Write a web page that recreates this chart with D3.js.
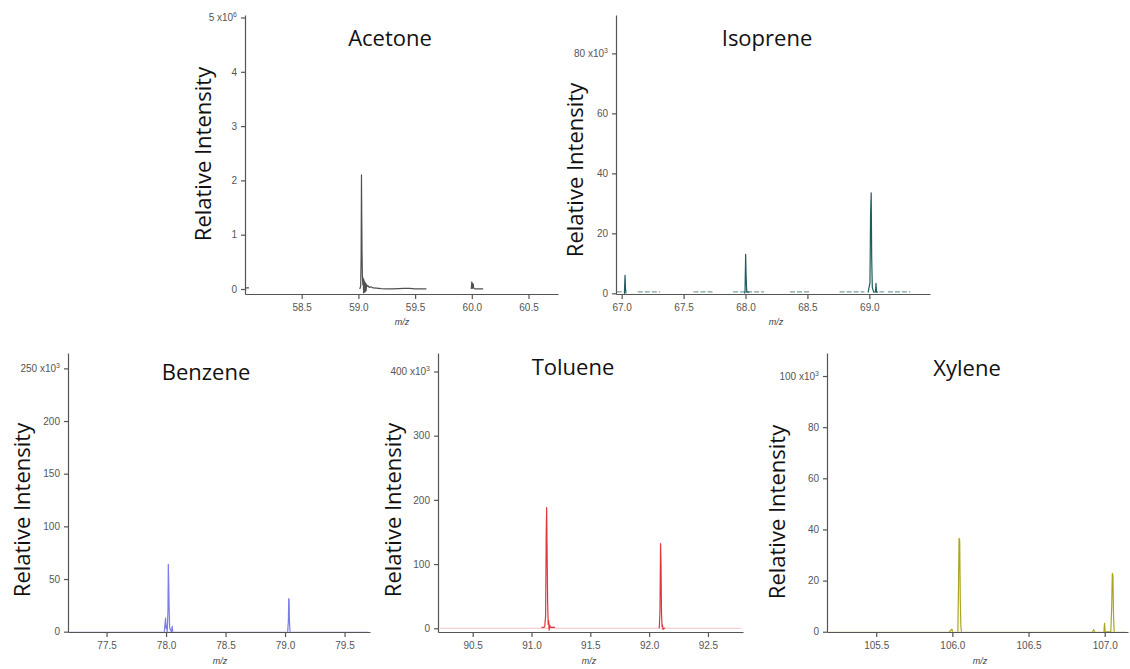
<!DOCTYPE html>
<html>
<head>
<meta charset="utf-8">
<script src="https://cdnjs.cloudflare.com/ajax/libs/d3/7.8.5/d3.min.js"></script>
<style>
body{margin:0;background:#fff;}
svg{display:block;}
.tick text{font-family:"Liberation Sans",Arial,sans-serif;font-size:10px;fill:#555;}
.title{font-family:"Open Sans",sans-serif;font-size:22px;fill:#111;text-anchor:middle;}
.ylab{font-family:"Open Sans",sans-serif;font-size:22px;fill:#111;text-anchor:middle;}
.xlab{font-family:"Liberation Sans",Arial,sans-serif;font-size:9px;font-style:italic;fill:#444;text-anchor:middle;}
</style>
</head>
<body>
<svg id="chart" width="1130" height="669"></svg>
<script>
/**
	spectra; null = gap in the trace
**/
// acetone, x10^6
var acetoneMz  = [58.00, 58.035, 58.04, 59.012, 59.020, 59.024, 59.027, 59.030, 59.032, 59.035, 59.039, 59.042, 59.046, 59.049, 59.053, 59.056, 59.060, 59.064, 59.068, 59.072, 59.078, 59.085, 59.095, 59.11, 59.13, 59.16, 59.20, 59.25, 59.30, 59.35, 59.40, 59.45, 59.50, 59.55, 59.60, 59.62, 59.995, 60.000, 60.003, 60.006, 60.010, 60.013, 60.016, 60.020, 60.024, 60.03, 60.10, 60.12];
var acetoneInt = [0.02, 0.02, null, 0, 0.05, 0.6, 2.10, 1.2, 0.67, 0.25, 0.08, 0.2, -0.07, 0.17, -0.06, 0.13, -0.05, 0.11, -0.03, 0.08, 0.05, 0.06, 0.03, 0.04, 0.02, 0.015, 0.008, 0.004, 0.003, 0.008, 0.013, 0.01, 0.004, 0.002, 0.001, null, 0, 0.13, 0.04, 0.01, 0.10, 0.08, 0.02, 0.01, 0.005, 0.002, 0.001, null];

// isoprene, x10^3
var isopreneMz  = [67.018, 67.022, 67.027, 67.031, 67.035, 67.04, 67.99, 67.996, 68.001, 68.005, 68.010, 68.03, 68.04, 68.99, 69.005, 69.010, 69.015, 69.019, 69.024, 69.035, 69.050, 69.054, 69.058, 69.07];
var isopreneInt = [0, 0, 6.0, 1.5, 0, null, 0, 0.3, 13.0, 5.5, 0.4, 0.4, null, 0.2, 3.5, 26, 33.5, 12, 2, 0.4, 0.5, 3.3, 0.4, 0.4];
// isoprene baseline noise stretches
var isopreneNoiseFrom = [66.96, 67.13, 67.58, 67.90, 68.36, 68.76, 69.08, 69.15];
var isopreneNoiseTo   = [67.01, 67.31, 67.74, 68.15, 68.53, 68.96, 69.12, 69.33];

// benzene, x10^3
var benzeneMz  = [77.985, 77.996, 78.000, 78.004, 78.010, 78.016, 78.019, 78.022, 78.026, 78.030, 78.036, 78.045, 78.052, 78.056, 78.06, 79.022, 79.028, 79.031, 79.034, 79.037, 79.042];
var benzeneInt = [0, 13, 3, 6, 0, 20, 64, 50, 22, 4, 2, 0, 5, 0, null, 0, 10, 31.5, 30, 10, 0];

// toluene, x10^3
var tolueneMz  = [91.085, 91.105, 91.112, 91.120, 91.125, 91.129, 91.133, 91.137, 91.142, 91.146, 91.150, 91.155, 91.160, 91.20, 91.22, 92.086, 92.092, 92.097, 92.101, 92.105, 92.110, 92.114, 92.118, 92.124, 92.136];
var tolueneInt = [1.5, 1.5, 2, 20, 150, 188, 110, 40, 6, 12, -3, 5, 1.5, 1.5, null, 0, 25, 132, 100, 25, 3, 5, -2, 0, 0];

// xylene, x10^3
var xyleneMz  = [105.98, 105.997, 106.002, 106.01, 106.036, 106.040, 106.044, 106.048, 106.052, 106.056, 106.060, 106.07, 106.92, 106.928, 106.935, 106.94, 106.995, 106.999, 107.003, 107.040, 107.046, 107.050, 107.054, 107.058, 107.062];
var xyleneInt = [0, 1.0, 0, null, 0, 16, 36.5, 36, 12, 2, 0, null, 0, 0.8, 0, null, 0, 3.3, 0, 0, 10, 22.8, 22, 6, 0];

// axis ticks
var acetoneXTicks = [58.5, 59.0, 59.5, 60.0, 60.5];
var acetoneYTicks = [0, 1, 2, 3, 4, 5];
var isopreneXTicks = [67.0, 67.5, 68.0, 68.5, 69.0];
var isopreneYTicks = [0, 20, 40, 60, 80];
var benzeneXTicks = [77.5, 78.0, 78.5, 79.0, 79.5];
var benzeneYTicks = [0, 50, 100, 150, 200, 250];
var tolueneXTicks = [90.5, 91.0, 91.5, 92.0, 92.5];
var tolueneYTicks = [0, 100, 200, 300, 400];
var xyleneXTicks = [105.5, 106.0, 106.5, 107.0];
var xyleneYTicks = [0, 20, 40, 60, 80, 100];

var svg = d3.select('#chart');

var panels = [
	{name:'Acetone', mz:acetoneMz, v:acetoneInt, exp:'6', color:'#505050', base:null,
	 xTicks:acetoneXTicks, yTicks:acetoneYTicks, xDomain:[58.0, 60.76], yDomain:[-0.092, 5.046],
	 left:245, right:558, top:15, bottom:294, title:[390, 46], ylab:[203, 154], xlab:[402, 322]},
	{name:'Isoprene', mz:isopreneMz, v:isopreneInt, exp:'3', color:'#1e5c5e', base:null,
	 noise:[isopreneNoiseFrom, isopreneNoiseTo, 0.5, '#7a9e9e'],
	 xTicks:isopreneXTicks, yTicks:isopreneYTicks, xDomain:[66.954, 69.49], yDomain:[-0.23, 92.8],
	 left:616, right:930, top:15, bottom:294, title:[767, 46], ylab:[575, 170], xlab:[776, 322]},
	{name:'Benzene', mz:benzeneMz, v:benzeneInt, exp:'3', color:'#7a7ee6', base:'#dcdcf4',
	 xTicks:benzeneXTicks, yTicks:benzeneYTicks, xDomain:[77.176, 79.714], yDomain:[-0.3, 264.6],
	 left:68, right:370, top:353, bottom:632, title:[206, 380], ylab:[22, 510], xlab:[220, 661]},
	{name:'Toluene', mz:tolueneMz, v:tolueneInt, exp:'3', color:'#e0373d', base:'#f4c4c4',
	 xTicks:tolueneXTicks, yTicks:tolueneYTicks, xDomain:[90.205, 92.798], yDomain:[-5.8, 428.8],
	 left:438, right:743, top:353, bottom:632, title:[573, 375], ylab:[393, 510], xlab:[589, 661]},
	{name:'Xylene', mz:xyleneMz, v:xyleneInt, exp:'3', color:'#aaa51e', base:'#ebe9d0',
	 xTicks:xyleneXTicks, yTicks:xyleneYTicks, xDomain:[105.177, 107.153], yDomain:[-0.1, 109],
	 left:827, right:1128, top:353, bottom:632, title:[967, 376], ylab:[777, 512], xlab:[980, 661]}
];

function drawPanel(p){
	var x = d3.scaleLinear().domain(p.xDomain).range([p.left, p.right]);
	var y = d3.scaleLinear().domain(p.yDomain).range([p.bottom, p.top]);
	var g = svg.append('g').attr('class', 'panel');

	// faint baseline trace
	if (p.base){
		g.append('line')
			.attr('x1', x(p.xDomain[0]) + 2).attr('x2', x(p.xDomain[1]) - 2)
			.attr('y1', y(0)).attr('y2', y(0))
			.attr('stroke', p.base).attr('stroke-width', 1);
	}
	if (p.noise){
		var lvl = p.noise[2];
		g.selectAll('line.noise')
			.data(p.noise[0])
			.enter().append('line')
			.attr('class', 'noise')
			.attr('x1', function(d){ return x(d); })
			.attr('x2', function(d, i){ return x(p.noise[1][i]); })
			.attr('y1', y(lvl)).attr('y2', y(lvl))
			.attr('stroke', p.noise[3]).attr('stroke-width', 1.2)
			.attr('stroke-dasharray', '5,2');
	}

	var pts = p.mz.map(function(m, i){ return [m, p.v[i]]; });
	var line = d3.line()
		.defined(function(d){ return d[1] !== null; })
		.x(function(d){ return x(d[0]); })
		.y(function(d){ return y(d[1]); });
	g.append('path')
		.datum(pts)
		.attr('d', line)
		.attr('fill', 'none')
		.attr('stroke', p.color)
		.attr('stroke-width', 1.2)
		.attr('stroke-linejoin', 'round');

	var fmtX = d3.format('.1f');
	var fmtY = d3.format('~g');
	var xa = g.append('g')
		.attr('transform', 'translate(0,' + p.bottom + ')')
		.call(d3.axisBottom(x).tickValues(p.xTicks).tickFormat(fmtX).tickSize(5).tickSizeOuter(0).tickPadding(5));
	var ya = g.append('g')
		.attr('transform', 'translate(' + p.left + ',0)')
		.call(d3.axisLeft(y).tickValues(p.yTicks).tickFormat(fmtY).tickSize(4).tickSizeOuter(0).tickPadding(4));
	[xa, ya].forEach(function(a){
		a.select('.domain').attr('stroke', '#555').attr('stroke-width', 1.2);
		a.selectAll('.tick line').attr('stroke', '#555').attr('stroke-width', 1.2);
	});

	// top y label gets the exponent
	var top = p.yTicks[p.yTicks.length - 1];
	ya.selectAll('.tick').filter(function(d){ return d === top; }).select('text')
		.text(top + ' x10')
		.append('tspan').attr('dy', '-0.55em').attr('font-size', '7px').text(p.exp);

	g.append('text').attr('class', 'title')
		.attr('x', p.title[0]).attr('y', p.title[1]).text(p.name);
	g.append('text').attr('class', 'ylab')
		.attr('transform', 'translate(' + p.ylab[0] + ',' + p.ylab[1] + ') rotate(-90)')
		.attr('dy', '0.35em')
		.text('Relative Intensity');
	g.append('text').attr('class', 'xlab')
		.attr('x', p.xlab[0]).attr('y', p.xlab[1]).attr('dy', '0.35em').text('m/z');
}

panels.forEach(drawPanel);
</script>
</body>
</html>
